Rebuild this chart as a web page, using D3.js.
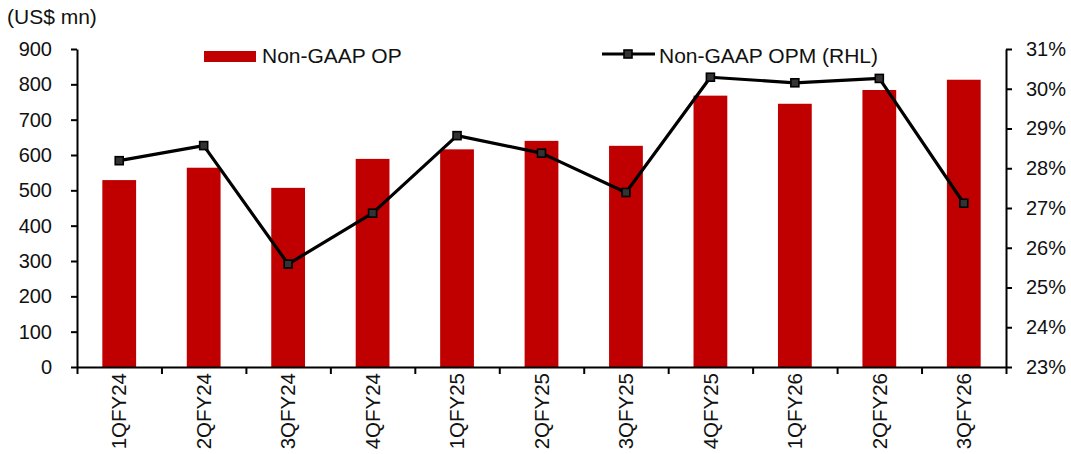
<!DOCTYPE html>
<html>
<head>
<meta charset="utf-8">
<script src="https://cdn.jsdelivr.net/npm/d3@7"></script>
<style>
  html, body { margin: 0; padding: 0; background: #fff; }
  svg { display: block; font-family: "Liberation Sans", Arial, sans-serif; }
</style>
</head>
<body>
<svg id="chart" width="1071" height="454"></svg>
<script>
// Quarterly non-GAAP operating profit (US$ mn) and margin (%)
const quarters = ["1QFY24", "2QFY24", "3QFY24", "4QFY24", "1QFY25", "2QFY25",
                  "3QFY25", "4QFY25", "1QFY26", "2QFY26", "3QFY26"];
const opValues = [529, 564, 507, 589, 616, 640, 626, 768, 745, 784, 813];
const opmValues = [28.19, 28.57, 25.59, 26.87, 28.82, 28.38, 27.39, 30.29, 30.15, 30.26, 27.12];
const leftTicks = [0, 100, 200, 300, 400, 500, 600, 700, 800, 900];
const rightTicks = [23, 24, 25, 26, 27, 28, 29, 30, 31];
const legendLabels = ["Non-GAAP OP", "Non-GAAP OPM (RHL)"];
const unitLabel = "(US$ mn)";

const svg = d3.select("#chart");
const plotLeft = 77, plotRight = 1006, plotTop = 49, plotBottom = 367;
const barColor = "#C00000";

const x = d3.scaleBand().domain(quarters).range([plotLeft, plotRight])
  .paddingInner(0.6).paddingOuter(0.3);
const yL = d3.scaleLinear().domain([0, 900]).range([plotBottom, plotTop]);
const yR = d3.scaleLinear().domain([23, 31]).range([plotBottom, plotTop]);
const xEdge = d3.scaleLinear().domain([0, quarters.length]).range([plotLeft, plotRight]);

// Bars
svg.append("g").selectAll("rect").data(opValues).join("rect")
  .attr("x", (d, i) => x(quarters[i]))
  .attr("y", d => yL(d))
  .attr("width", x.bandwidth())
  .attr("height", d => plotBottom - yL(d))
  .attr("fill", barColor);

// Axes
function styleAxis(g) {
  g.select(".domain").attr("stroke", "#000").attr("stroke-width", 2);
  g.selectAll(".tick line").attr("stroke", "#000").attr("stroke-width", 2);
  g.selectAll("text").attr("fill", "#111").attr("font-size", 20)
    .attr("font-family", "Liberation Sans, Arial, sans-serif");
}

svg.append("g").attr("transform", `translate(${plotLeft},0)`)
  .call(d3.axisLeft(yL).tickValues(leftTicks).tickSize(6).tickPadding(19).tickSizeOuter(0))
  .call(styleAxis);

svg.append("g").attr("transform", `translate(${plotRight},0)`)
  .call(d3.axisRight(yR).tickValues(rightTicks).tickSize(6).tickPadding(14).tickSizeOuter(0)
    .tickFormat(d => d + "%"))
  .call(styleAxis);

svg.append("g").attr("transform", `translate(0,${plotBottom})`)
  .call(d3.axisBottom(xEdge).tickValues(d3.range(0, quarters.length + 1)).tickSize(7)
    .tickSizeOuter(0).tickFormat(""))
  .call(styleAxis);

// Category labels, rotated
svg.append("g").selectAll("text").data(quarters).join("text")
  .attr("transform", d => `translate(${x(d) + x.bandwidth() / 2},${plotBottom + 6}) rotate(-90)`)
  .attr("text-anchor", "end")
  .attr("dy", "0.35em")
  .attr("font-size", 20.5)
  .attr("fill", "#111")
  .text(d => d);

// Margin line with square markers
const line = d3.line()
  .x((d, i) => x(quarters[i]) + x.bandwidth() / 2)
  .y(d => yR(d));
svg.append("path").datum(opmValues)
  .attr("d", line).attr("fill", "none")
  .attr("stroke", "#000").attr("stroke-width", 3.2).attr("stroke-linejoin", "round");
const ms = 8;
svg.append("g").selectAll("rect").data(opmValues).join("rect")
  .attr("x", (d, i) => x(quarters[i]) + x.bandwidth() / 2 - ms / 2)
  .attr("y", d => yR(d) - ms / 2)
  .attr("width", ms).attr("height", ms)
  .attr("fill", "#333").attr("stroke", "#000").attr("stroke-width", 1.6);

// Unit label
svg.append("text").attr("x", 7).attr("y", 24)
  .attr("font-size", 21).attr("fill", "#111").text(unitLabel);

// Legend
const lg = svg.append("g");
lg.append("rect").attr("x", 204).attr("y", 51).attr("width", 52).attr("height", 11)
  .attr("fill", barColor);
lg.append("text").attr("x", 262).attr("y", 63).attr("font-size", 21)
  .attr("fill", "#111").text(legendLabels[0]);
lg.append("line").attr("x1", 602).attr("x2", 655).attr("y1", 54).attr("y2", 54)
  .attr("stroke", "#000").attr("stroke-width", 3.2);
lg.append("rect").attr("x", 628 - ms / 2).attr("y", 54 - ms / 2)
  .attr("width", ms).attr("height", ms)
  .attr("fill", "#333").attr("stroke", "#000").attr("stroke-width", 1.6);
lg.append("text").attr("x", 659).attr("y", 63).attr("font-size", 21)
  .attr("fill", "#111").text(legendLabels[1]);
</script>
</body>
</html>
